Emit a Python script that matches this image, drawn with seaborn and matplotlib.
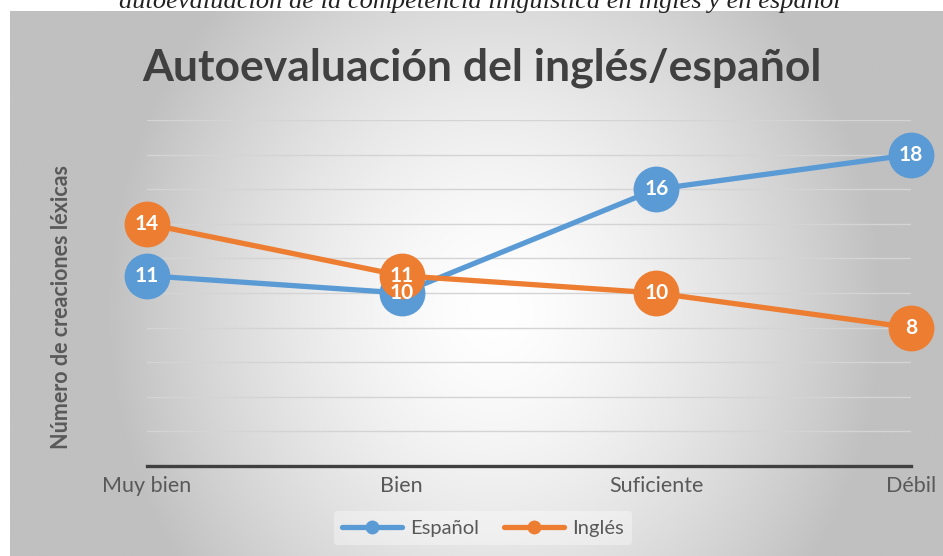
import numpy as np
import pandas as pd
import matplotlib
matplotlib.use("Agg")
import matplotlib.pyplot as plt
from matplotlib.lines import Line2D
import seaborn as sns

# Data
categorias = ["Muy bien", "Bien", "Suficiente", "Débil"]
espanol = [11, 10, 16, 18]
ingles = [14, 11, 10, 8]
series = ["Español", "Inglés"]
colores = {"Español": "#5B9BD5", "Inglés": "#ED7D31"}

titulo = "Autoevaluación del inglés/español"
ylabel = "Número de creaciones léxicas"
leyenda_sup = "autoevaluación de la competencia lingüística en inglés y en español"

df = pd.DataFrame({
    "categoria": categorias * 2,
    "valor": espanol + ingles,
    "serie": [series[0]] * len(categorias) + [series[1]] * len(categorias),
})

sns.set_theme(style="white")
plt.rcParams["font.family"] = ["Lato", "DejaVu Sans"]

W, H = 943, 556
fig = plt.figure(figsize=(W / 100, H / 100), dpi=100, facecolor="white")

# caption cut off at the top (as in the original)
fig.text(480 / W, 1 - 8 / H, leyenda_sup, ha="center", va="baseline",
         fontsize=19, style="italic", family=["Liberation Serif"], color="#222222")

# radial gradient background
bg = fig.add_axes([10 / W, 0, (W - 10) / W, (H - 11) / H])
bg.set_axis_off()
xx, yy = np.meshgrid(np.linspace(10, W, 400), np.linspace(11, H, 300))
t = np.sqrt(((xx - 495) / 390) ** 2 + ((yy - 310) / 440) ** 2)
t = np.clip(t, 0, 1) ** 1.5
lo, hi = 0xC0 / 255, 1.0
v = hi * (1 - t) + lo * t
img = np.dstack([v, v, v])
bg.imshow(img, extent=[0, 1, 0, 1], aspect="auto", origin="upper")
bg.set_xlim(0, 1)
bg.set_ylim(0, 1)

ax = fig.add_axes([147 / W, (H - 466) / H, (911 - 147) / W, (466 - 120) / H])
ax.patch.set_alpha(0)

sns.lineplot(data=df, x="categoria", y="valor", hue="serie", hue_order=series,
             palette=colores, marker="o", markersize=33, markeredgewidth=0,
             linewidth=3.8, legend=False, ax=ax, zorder=3, clip_on=False)

for s, vals in zip(series, [espanol, ingles]):
    for i, val in enumerate(vals):
        ax.text(i, val, str(val), ha="center", va="center", color="white",
                fontsize=15, fontweight="bold", zorder=5)

ax.set_xlim(0, 3)
ax.set_ylim(0, 20)
ax.set_yticks(np.arange(2, 21, 2))
ax.set_yticklabels([])
ax.yaxis.grid(True, color="#d4d4d4", linewidth=1)
ax.tick_params(axis="both", length=0)
ax.tick_params(axis="x", pad=7, labelsize=15.5, labelcolor="#595959")
for sp in ["top", "right", "left"]:
    ax.spines[sp].set_visible(False)
ax.spines["bottom"].set_color("#404040")
ax.spines["bottom"].set_linewidth(2.4)
ax.set_xlabel("")
ax.set_ylabel("")

fig.text(62 / W, (H - 307) / H, ylabel, rotation=90, ha="center", va="center",
         fontsize=15.5, fontweight="bold", color="#595959")
fig.text(482 / W, (H - 68) / H, titulo, ha="center", va="center",
         fontsize=32, fontweight="bold", color="#404040")

handles = [Line2D([0], [0], color=colores[s], linewidth=3.8, marker="o",
                  markersize=10, markeredgewidth=0) for s in series]
leg = fig.legend(handles, series, loc="center", bbox_to_anchor=(483 / W, (H - 528) / H),
                 ncol=2, frameon=True, fontsize=14.5, handlelength=3.0,
                 columnspacing=1.2, handletextpad=0.4, borderpad=0.4)
leg.get_frame().set_facecolor("white")
leg.get_frame().set_alpha(0.35)
leg.get_frame().set_edgecolor("none")
for txt in leg.get_texts():
    txt.set_color("#595959")

fig.savefig("out.png", dpi=100, facecolor="white")
